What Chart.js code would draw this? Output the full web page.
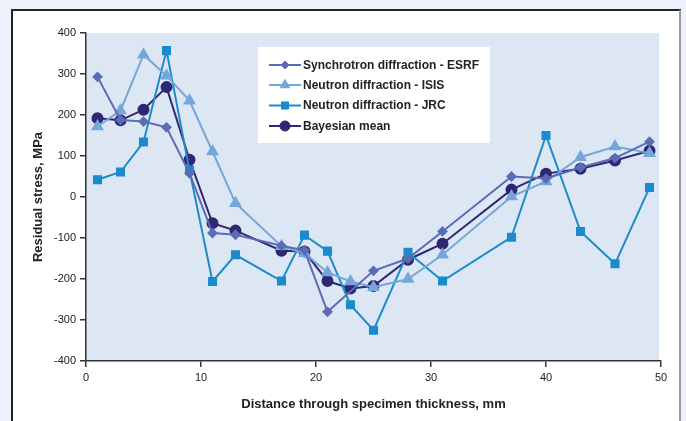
<!DOCTYPE html>
<html>
<head>
<meta charset="utf-8">
<script src="https://cdn.jsdelivr.net/npm/chart.js@4"></script>
<style>
html,body{margin:0;padding:0;background:#eef2fa;}
#wrap{position:relative;width:686px;height:421px;}
canvas{display:block;}
</style>
</head>
<body>
<div id="wrap"><canvas id="c" width="686" height="421"></canvas></div>
<script>
// Data
const xSynchrotron = [1, 3, 5, 7, 9, 11, 13, 17, 19, 21, 25, 28, 31, 37, 40, 43, 46, 49];
const ySynchrotron = [293, 188, 184, 170, 58, -88, -92, -119, -130, -280, -180, -150, -84, 50, 45, 72, 95, 135];

const xISIS = [1, 3, 5, 7, 9, 11, 13, 17, 19, 21, 23, 25, 28, 31, 37, 40, 43, 46, 49];
const yISIS = [172, 211, 347, 296, 235, 111, -15, -120, -137, -184, -206, -220, -200, -141, 1, 38, 97, 123, 107];

const xJRC = [1, 3, 5, 7, 9, 11, 13, 17, 19, 21, 23, 25, 28, 31, 37, 40, 43, 46, 49];
const yJRC = [42, 61, 134, 357, 65, -206, -141, -205, -93, -132, -263, -325, -135, -205, -98, 150, -84, -163, 23];

const xBayes = [1, 3, 5, 7, 9, 11, 13, 17, 19, 21, 23, 25, 28, 31, 37, 40, 43, 46, 49];
const yBayes = [192, 187, 213, 268, 91, -64, -82, -131, -133, -205, -223, -217, -153, -114, 18, 57, 69, 89, 113];

const seriesLabels = ['Synchrotron diffraction - ESRF', 'Neutron diffraction - ISIS', 'Neutron diffraction - JRC', 'Bayesian mean'];
const xTitle = 'Distance through specimen thickness, mm';
const yTitle = 'Residual stress, MPa';

function pts(xs, ys){ return xs.map((x,i)=>({x:x, y:ys[i]})); }

const bgPlugin = {
  id:'bg',
  beforeDraw(chart){
    const ctx = chart.ctx, a = chart.chartArea;
    ctx.save();
    ctx.fillStyle = '#eef2fa';
    ctx.fillRect(0,0,chart.width,chart.height);
    ctx.fillStyle = '#ffffff';
    ctx.fillRect(12,10,668,chart.height);
    ctx.fillStyle = '#222222';
    ctx.fillRect(11,9,670,2);
    ctx.fillRect(11,9,2,chart.height);
    ctx.fillStyle = '#9a9a9a';
    ctx.fillRect(679,10,2,chart.height);
    ctx.fillStyle = '#dde7f4';
    ctx.fillRect(a.left, a.top, a.right - a.left - 2, a.bottom - a.top);
    ctx.restore();
  }
};

const legendPlugin = {
  id:'boxLegend',
  afterDatasetsDraw(chart){
    const ctx = chart.ctx;
    ctx.save();
    ctx.fillStyle = '#ffffff';
    ctx.fillRect(258, 47, 232, 96);
    const rows = [65, 85, 105.5, 126];
    chart.data.datasets.forEach((ds, i) => {
      const y = rows[i];
      ctx.strokeStyle = ds.borderColor;
      ctx.lineWidth = ds.borderWidth;
      ctx.beginPath();
      ctx.moveTo(269, y);
      ctx.lineTo(301, y);
      ctx.stroke();
      ctx.fillStyle = ds.pointBackgroundColor;
      ctx.strokeStyle = ds.pointBorderColor;
      ctx.lineWidth = 1;
      Chart.helpers.drawPoint(ctx, {
        pointStyle: ds.pointStyle, radius: ds.pointRadius, borderWidth: 1, rotation: 0
      }, 285, y);
      ctx.fillStyle = '#222222';
      ctx.font = 'bold 12px "Liberation Sans", Arial, sans-serif';
      ctx.textBaseline = 'middle';
      ctx.textAlign = 'left';
      ctx.fillText(ds.label, 303, y + 0.5);
    });
    ctx.restore();
  }
};

function mk(label, xs, ys, color, style, r){
  return {
    label: label,
    data: pts(xs, ys),
    borderColor: color,
    backgroundColor: color,
    pointBackgroundColor: color,
    pointBorderColor: color,
    borderWidth: 2,
    pointStyle: style,
    pointRadius: r,
    pointHoverRadius: r,
    tension: 0,
    fill: false
  };
}

new Chart(document.getElementById('c'), {
  type: 'line',
  data: {
    datasets: [
      mk(seriesLabels[0], xSynchrotron, ySynchrotron, '#5b6cb6', 'rectRot', 4),
      mk(seriesLabels[1], xISIS, yISIS, '#74a6dc', 'triangle', 5.5),
      mk(seriesLabels[2], xJRC, yJRC, '#1b8ccb', 'rect', 5),
      mk(seriesLabels[3], xBayes, yBayes, '#2f2771', 'circle', 5)
    ]
  },
  options: {
    responsive: false,
    animation: false,
    devicePixelRatio: 1,
    layout: { padding: { top: 33, right: 25, bottom: 0, left: 0 } },
    plugins: { legend: { display: false }, tooltip: { enabled: false } },
    scales: {
      x: {
        type: 'linear', min: 0, max: 50,
        afterFit(s){ s.height = 60; },
        ticks: { stepSize: 10, color: '#1a1a1a', padding: 4, font: { family: '"Liberation Sans", Arial, sans-serif', size: 11 } },
        grid: { display: true, drawOnChartArea: false, drawTicks: true, tickLength: 6, color: '#333', lineWidth: 1.5 },
        border: { display: true, color: '#333', width: 1.5 },
        title: { display: true, text: xTitle, color: '#222', padding: { top: 0, bottom: 9 }, font: { family: '"Liberation Sans", Arial, sans-serif', size: 13, weight: 'bold' } }
      },
      y: {
        type: 'linear', min: -400, max: 400,
        afterFit(s){ s.width = 86; },
        ticks: { stepSize: 100, color: '#1a1a1a', padding: 4, font: { family: '"Liberation Sans", Arial, sans-serif', size: 11 } },
        grid: { display: true, drawOnChartArea: false, drawTicks: true, tickLength: 6, color: '#333', lineWidth: 1.5 },
        border: { display: true, color: '#333', width: 1.5 },
        title: { display: true, text: yTitle, color: '#222', padding: { top: 31, bottom: 0 }, font: { family: '"Liberation Sans", Arial, sans-serif', size: 13, weight: 'bold' } }
      }
    }
  },
  plugins: [bgPlugin, legendPlugin]
});
</script>
</body>
</html>
